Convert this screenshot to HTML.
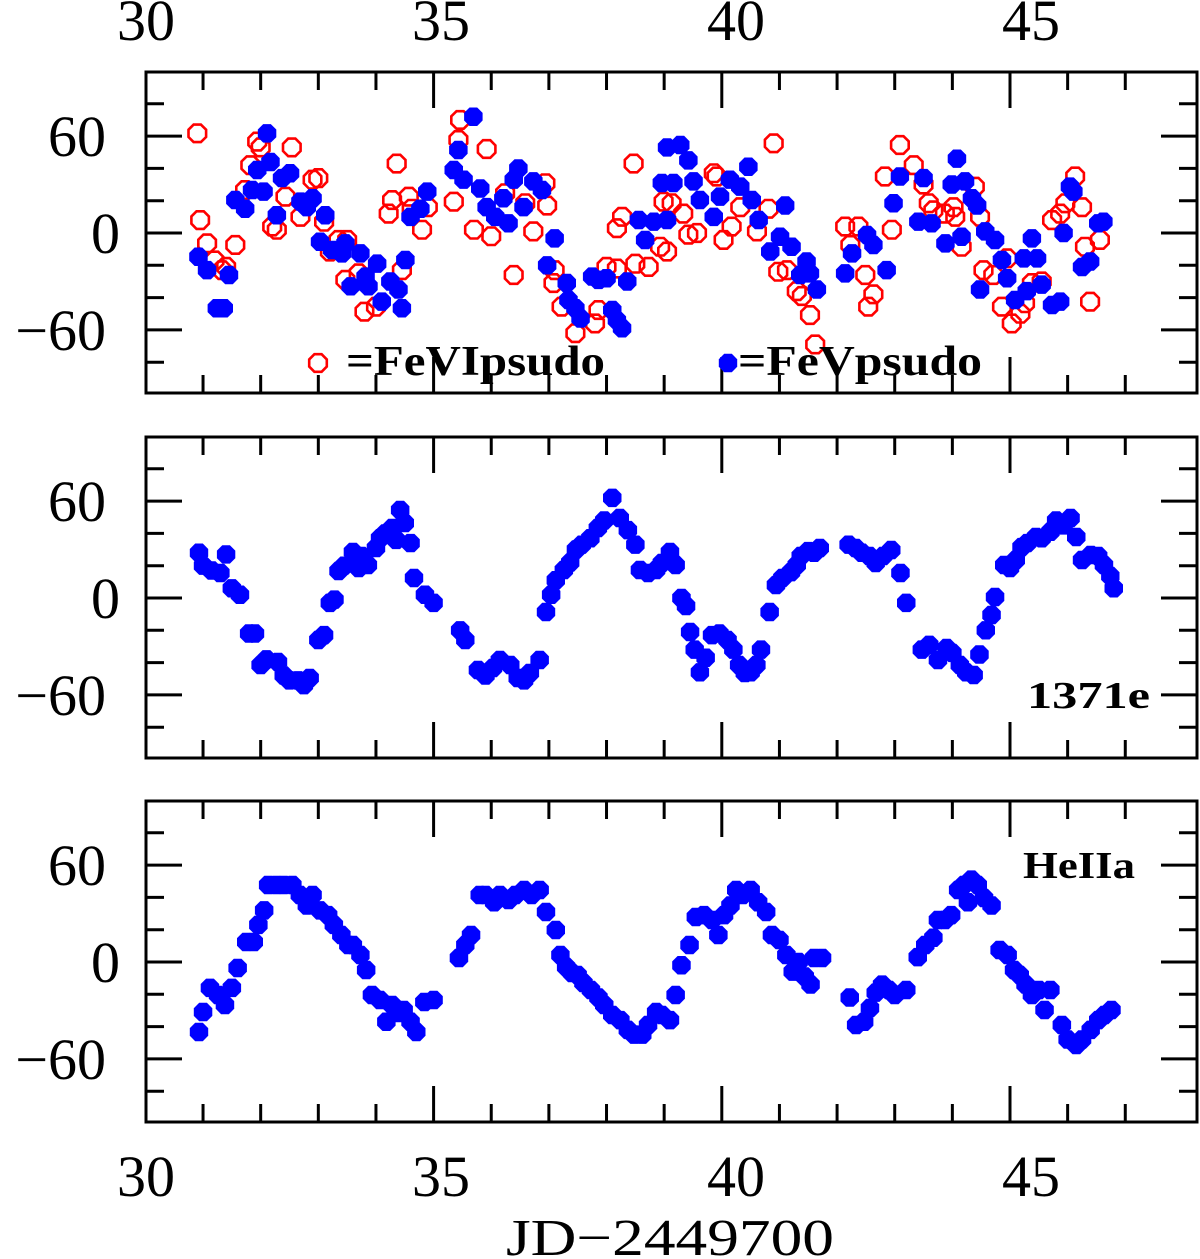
<!DOCTYPE html>
<html><head><meta charset="utf-8"><style>
html,body{margin:0;padding:0;background:#fff;}
svg{display:block;}
text{font-family:"Liberation Serif",serif;fill:#000;}
</style></head><body>
<svg id="chart" width="1200" height="1259" viewBox="0 0 1200 1259" xmlns="http://www.w3.org/2000/svg"></svg>
<script>
// ---- data ----
const feviT=[30.9,30.95,31.07,31.2,31.4,31.56,31.33,31.94,32.0,32.54,31.82,31.73,32.2,32.28,32.43,32.69,32.9,33.0,33.1,33.35,33.5,33.2,33.47,33.7,33.8,34.0,34.28,34.22,34.57,34.36,34.62,34.45,34.8,34.9,35.46,35.43,35.35,35.92,35.7,36.0,36.24,36.39,36.73,36.59,36.94,36.97,37.08,37.22,37.1,37.46,37.8,37.86,38.0,38.18,38.27,38.47,38.18,38.5,38.73,38.93,38.99,39.05,39.13,39.33,39.42,39.57,39.86,39.91,40.03,40.17,40.32,40.61,40.81,40.9,40.98,41.13,41.3,41.39,41.53,41.62,42.14,42.23,42.37,42.49,42.63,42.54,42.83,42.95,43.09,43.33,43.5,43.59,43.67,43.87,44.02,44.05,44.16,44.39,44.48,44.54,44.71,44.86,44.95,45.03,45.18,45.26,45.38,45.55,45.73,45.87,45.96,46.13,46.25,46.3,46.56,46.39];
const feviV=[61.7,8,-6.4,-17,-21,-7.4,-23,56.6,53,53,42,26.6,4,2,22.5,10,33,34,7,-4.3,-4.3,-11.5,-29,-25,-48.7,-45.6,20.4,12,22.5,43,15,-23,2,16,70,57.6,19.4,52,2,-2,24.6,-26,1,18.4,30.8,17,-31,-45.6,-23,-62,-56,-47.7,-21,3,10,43,-22,-19,-21,-8.5,19.4,-11.5,18.4,12,-1,0,37,35,-4.3,4,16,1,15,55.5,-24,-23,-36,-39,-50.8,-69,4,-7.4,4,-26,-38,-45.6,35,2,54.5,42,30,18.4,14,12,16,10,-8.5,28.7,10,-23,-26,-45.6,-15.7,-56,-50,-43.5,-31,-30,8,12,18.4,35,16,-8.5,-4.3,-42.5];
const fevT=[30.92,31.07,31.24,31.36,31.45,31.56,31.73,32.11,31.94,32.17,31.85,32.05,32.28,32.37,32.51,32.69,32.8,32.9,33.12,33.03,33.24,33.41,33.47,33.73,33.56,33.82,34.02,33.87,34.1,34.25,34.39,34.45,34.51,34.6,34.77,34.89,35.69,35.43,35.35,35.52,35.81,35.92,36.07,36.21,36.3,36.39,36.47,36.56,36.73,36.88,37.1,36.97,37.31,37.34,37.46,37.55,37.75,37.86,38.0,38.1,38.18,38.27,38.36,38.56,38.67,38.82,38.96,39.05,39.05,39.28,39.42,39.16,39.51,39.62,39.86,39.97,40.14,40.32,40.46,40.52,40.64,41.1,40.84,41.01,41.21,41.47,41.36,41.53,41.65,42.14,42.26,42.52,42.63,42.86,42.98,43.09,43.5,43.41,43.64,43.99,44.08,44.22,44.34,44.43,44.16,43.88,44.57,44.74,44.86,44.48,44.95,45.24,45.38,45.47,45.09,45.29,45.55,45.73,45.87,46.1,46.04,45.93,46.25,46.39,46.53,46.62];
const fevV=[-14.7,-23,-46.6,-46.6,-26,20.4,15,61.7,39,44,26.6,25.6,11,34,37,19.4,16,21.5,11,-5.4,-10.5,-12.6,-6.4,-12.6,-33,-27,-19,-33,-42.5,-30,-35,-46.6,-16.7,10,15,25.6,72,51.4,39,33,27.6,16,10,21.5,6,33,40,16,32,26.6,-3.3,-20,-31,-41.5,-46.6,-53,-27,-29,-28,-47.7,-54,-59,-30,8,-4.3,7,31,53,8,54.5,45,31,32,20.4,10,22.5,33,28.7,41,20.4,8,17,-11.5,-2.3,-8.5,-17.7,-26,-25,-35,-25,-12.6,-1.2,-7.4,-23,18.4,35,34,7,6,30,46,32,21.5,17,-2.3,-6.4,1,-4.3,-16.7,-35,-28,-15.7,-3.3,-15.7,-41.5,-36,-32,-44.6,-42.5,25.6,28.7,0,-21,-17.7,6,7];
const p2T=[30.93,31.0,31.15,31.3,31.4,31.5,31.64,31.8,31.9,32.0,32.1,32.3,32.4,32.5,32.65,32.75,32.85,33.0,33.1,33.2,33.28,33.35,33.45,33.6,33.7,33.75,33.86,34.0,34.07,34.16,34.28,34.35,34.42,34.5,34.6,34.66,34.85,35.0,35.46,35.55,35.77,35.9,36.03,36.15,36.33,36.46,36.57,36.67,36.84,36.95,37.04,37.12,37.26,37.37,37.47,37.57,37.72,37.85,37.96,38.1,38.23,38.37,38.5,38.58,38.72,38.86,38.96,39.1,39.2,39.3,39.38,39.45,39.53,39.62,39.72,39.83,39.96,40.1,40.2,40.3,40.4,40.5,40.6,40.68,40.83,40.94,41.05,41.2,41.3,41.37,41.5,41.6,41.7,42.2,42.32,42.43,42.56,42.67,42.8,42.94,43.1,43.2,43.47,43.6,43.75,43.9,44.0,44.13,44.24,44.37,44.47,44.58,44.68,44.74,44.9,45.0,45.1,45.2,45.3,45.45,45.55,45.7,45.8,45.93,46.05,46.15,46.25,46.4,46.53,46.63,46.74,46.8];
const p2V=[28,20,17,15.5,27,6,2,-22,-22,-41.5,-38,-39.6,-48,-51,-51,-54,-49.5,-26,-23,-3,-1,16.7,20,28.5,18.6,26,20.4,31,37,40,43.3,36,54.5,46.4,34,12.4,2,-3,-20,-26,-44.6,-48,-43.3,-38.4,-41.5,-49.5,-51,-46.4,-38.4,-8.7,2,11,17.3,22,30,33,37,43.3,48,62,49.5,42,33,17.3,15.5,17.3,21.7,28.5,20.4,0,-5,-21,-32,-46,-37,-23,-22,-26,-32,-41.5,-46.4,-46,-41.5,-32,-8.7,8,12.4,16,20.4,26,29,28,31,33,31,28,26,21.7,26,29.7,15.5,-3,-32,-29,-38.4,-31,-34,-41.5,-46,-47.7,-35,-20,-10.5,0.6,20.4,18.6,23.5,31.5,34,37.8,37,41,48,45,49.5,37.8,23.5,26.6,26,20.4,13.6,6];
const p3T=[30.93,31.0,31.12,31.26,31.38,31.5,31.6,31.75,31.88,31.96,32.06,32.13,32.27,32.4,32.55,32.68,32.8,32.9,33.03,33.17,33.27,33.4,33.52,33.6,33.73,33.83,33.93,34.07,34.18,34.28,34.38,34.48,34.6,34.7,34.84,35.0,35.44,35.55,35.65,35.8,35.9,36.05,36.15,36.3,36.42,36.57,36.7,36.84,36.95,37.12,37.2,37.3,37.4,37.5,37.6,37.73,37.86,37.96,38.1,38.24,38.37,38.48,38.62,38.72,38.86,38.96,39.1,39.2,39.3,39.44,39.55,39.69,39.83,39.94,40.04,40.15,40.25,40.36,40.5,40.63,40.77,40.87,41.0,41.12,41.23,41.33,41.44,41.54,41.6,41.74,42.22,42.33,42.47,42.57,42.67,42.78,42.9,43.0,43.2,43.4,43.53,43.67,43.75,43.87,43.98,44.1,44.2,44.27,44.33,44.44,44.55,44.68,44.82,44.96,45.07,45.17,45.27,45.38,45.5,45.6,45.7,45.9,46.0,46.15,46.25,46.4,46.53,46.64,46.76];
const p3V=[-43.3,-31,-16,-20.4,-26.6,-16,-3.7,12.4,12.4,23,32,47.7,47.7,47.7,47.7,41.5,35,41.5,32,29,23,16.7,10.5,10.5,4.3,-5,-20.4,-23.5,-37,-26.6,-31.6,-29.7,-37,-43.3,-24.8,-23.5,2.5,10.5,16.7,41.5,41.5,37,41.5,38.4,41.5,44.6,41.5,44.6,31,19.8,4.3,-3,-6.8,-8,-13,-17.3,-22,-26.6,-32.8,-36,-42,-45,-45,-39,-31,-32.8,-36,-20.4,-2,10.5,27.9,29,26,16.7,29,35,44.6,41.5,44.6,37,31,16.7,13.6,4.3,-6,0,-9,-14,2.5,2.5,-22,-39,-37,-28.5,-19,-14,-17.3,-20.4,-17.3,3,10.5,15,26,26,29,44.6,47.7,37,51,47.7,39.6,35,7.4,4.3,-5,-8,-14,-20.4,-17.3,-29.7,-17.3,-39,-48,-51.4,-48,-42,-36,-32.8,-29.7];
const xTickValues=[30,35,40,45];
const xTickLabels=["30","35","40","45"];
const yTickLabels=["60","0","−60"];

// ---- layout ----
const NS="http://www.w3.org/2000/svg";
const svg=document.getElementById('chart');
const L=146,R=1197;
const panels=[{top:72,bot:393,zero:233},{top:437,bot:758,zero:598},{top:801,bot:1122,zero:962}];
const sx=t=>145.4+(t-30)*57.64;
const slab=t=>146+(t-30)*59;
const syf=p=>v=>p.zero-v*1.615;
function mk(tag,attrs,parent){const e=document.createElementNS(NS,tag);for(const k in attrs)e.setAttribute(k,attrs[k]);(parent||svg).appendChild(e);return e;}
function oct(cx,cy,r){let s="";for(let i=0;i<8;i++){const a=Math.PI/8+i*Math.PI/4;s+=(cx+r*Math.cos(a)).toFixed(1)+","+(cy+r*Math.sin(a)).toFixed(1)+" ";}return s;}

panels.forEach((p,pi)=>{
  const g=mk('g',{});
  
  
  const sy=syf(p);
  const fr=mk('rect',{x:L,y:p.top,width:R-L,height:p.bot-p.top,fill:'none',stroke:'#000','stroke-width':3},g);
  
  
  for(let t=31;t<=47;t++){
    const len=(t%5===0)?36:18,x=sx(t);
    mk('line',{x1:x,y1:p.bot,x2:x,y2:p.bot-len,stroke:'#000','stroke-width':3},g);
    mk('line',{x1:x,y1:p.top,x2:x,y2:p.top+len,stroke:'#000','stroke-width':3},g);
  }
  for(let v=-80;v<=80;v+=20){
    const len=(v%60===0)?36:18,y=sy(v);
    mk('line',{x1:L,y1:y,x2:L+len,y2:y,stroke:'#000','stroke-width':3},g);
    mk('line',{x1:R,y1:y,x2:R-len,y2:y,stroke:'#000','stroke-width':3},g);
  }
  [60,0,-60].forEach((v,i)=>{
    const tx=mk('text',{x:v===0?120:106,y:sy(v)+20,'text-anchor':'end','font-size':58},g);
    
    
    tx.textContent=yTickLabels[i];
  });
  const mk2=(T,V,kind,name)=>{
    T.forEach((t,i)=>{
      let el;
      if(kind==='open') el=mk('polygon',{points:oct(sx(t),sy(V[i]),9.5),fill:'none',stroke:'#ff0000','stroke-width':2.6},g);
      else el=mk('polygon',{points:oct(sx(t),sy(V[i]),10),fill:'#0000ff'},g);
      
      
    });
  };
  if(pi===0){mk2(feviT,feviV,'open','fevi-point');mk2(fevT,fevV,'fill','fev-point');}
  if(pi===1) mk2(p2T,p2V,'fill','1371e-point');
  if(pi===2) mk2(p3T,p3V,'fill','heiia-point');
});

xTickValues.forEach((t,i)=>{
  const a=mk('text',{x:slab(t),y:40,'text-anchor':'middle','font-size':58});
  
  
  a.textContent=xTickLabels[i];
  const b=mk('text',{x:slab(t),y:1196,'text-anchor':'middle','font-size':58});
  
  
  b.textContent=xTickLabels[i];
});
const xt=mk('text',{x:506,y:1255,'font-size':52,textLength:328,lengthAdjust:'spacingAndGlyphs'});


xt.textContent='JD−2449700';

// legend
const l1=mk('polygon',{points:oct(318,363,9.5),fill:'none',stroke:'#ff0000','stroke-width':2.6});


const lt1=mk('text',{x:346,y:375,'font-size':42,'font-weight':'bold',textLength:259,lengthAdjust:'spacingAndGlyphs'});


lt1.textContent='=FeVIpsudo';
const l2=mk('polygon',{points:oct(728,363,10),fill:'#0000ff'});


const lt2=mk('text',{x:738,y:375,'font-size':42,'font-weight':'bold',textLength:244,lengthAdjust:'spacingAndGlyphs'});


lt2.textContent='=FeVpsudo';
const pl2=mk('text',{x:1027,y:708,'font-size':38,'font-weight':'bold',textLength:123,lengthAdjust:'spacingAndGlyphs'});


pl2.textContent='1371e';
const pl3=mk('text',{x:1023,y:878,'font-size':38,'font-weight':'bold',textLength:112,lengthAdjust:'spacingAndGlyphs'});


pl3.textContent='HeIIa';
</script>
</body></html>
